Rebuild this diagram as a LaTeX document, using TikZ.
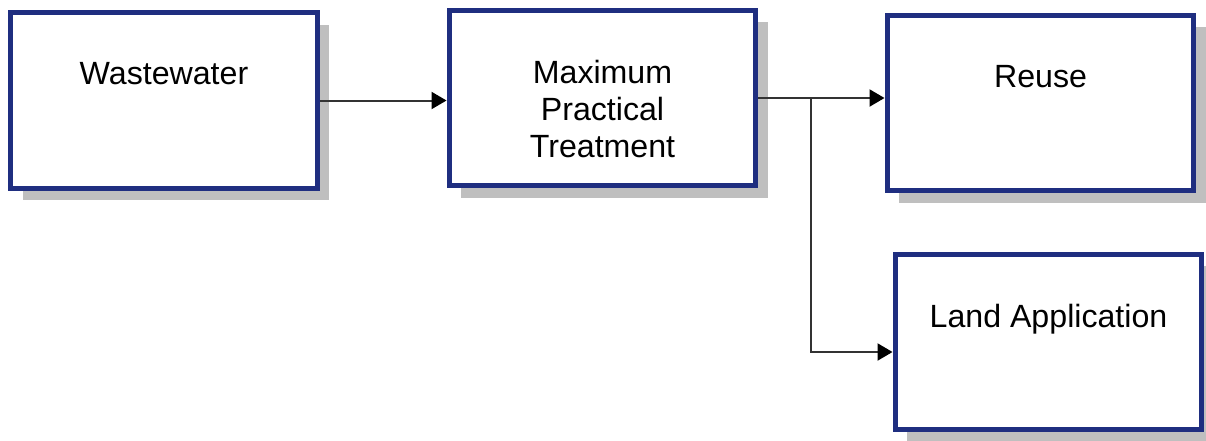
\documentclass[tikz,border=0pt]{standalone}
\usepackage{fontspec}
\setmainfont{Liberation Sans}
\usetikzlibrary{positioning,shadows,arrows.meta}
\definecolor{boxblue}{RGB}{31,46,128}
\tikzset{
  stage/.style={draw=boxblue, line width=0.1cm, fill=white,
    minimum width=6.14cm, minimum height=3.52cm, inner sep=0pt,
    drop shadow={shadow xshift=0.24cm, shadow yshift=-0.24cm, fill=black!25, opacity=1}},
  caption/.style={inner sep=0pt, align=center, font=\fontsize{18.3}{21}\selectfont},
  flow/.style={line width=0.04cm, draw=black!80, -{Triangle[length=0.3cm,width=0.34cm,color=black]}},
}
\begin{document}
\begin{tikzpicture}[x=0.02cm, y=-0.02cm]
    \useasboundingbox (0,0) rectangle (1206,440);
    % boxes
    \node[stage] (ww) at (164,100.5) {};
    \node[stage] (mpt) at (602.5,98) {};
    \node[stage] (reuse) at (1040.5,103) {};
    \node[stage] (land) at (1048.5,342) {};
    % texts
    \node[caption, below=1.05cm of ww.north] (wwtext) {Wastewater};
    \node[caption, below=1.05cm of mpt.north] (mpttext) {Maximum\\Practical\\Treatment};
    \node[caption, below=1.05cm of reuse.north] (reusetext) {Reuse};
    \node[caption, below=1.05cm of land.north] (landtext) {Land Application};
    % flows
    \draw[flow] (ww.east) -- (ww.east -| mpt.west);
    \draw[flow] (mpt.east) -- (mpt.east -| reuse.west);
    \coordinate (split) at (811,98);
    \draw[flow] (split) |- ([yshift=-0.2cm]land.west);
\end{tikzpicture}
\end{document}
